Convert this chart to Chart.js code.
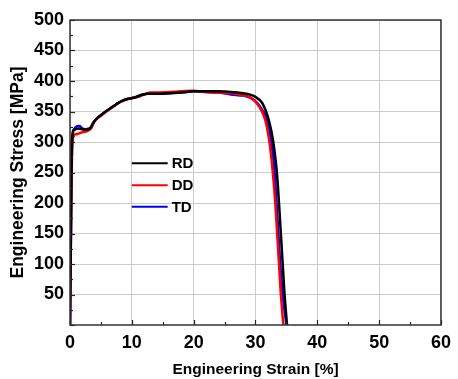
<!DOCTYPE html>
<html><head><meta charset="utf-8">
<script src="https://cdn.jsdelivr.net/npm/chart.js@4/dist/chart.umd.min.js"></script>
<style>html,body{margin:0;padding:0;background:#fff;}canvas{display:block;}</style>
</head><body>
<canvas id="c" width="458" height="379"></canvas>
<script>
const seriesNames = ["RD", "DD", "TD"];
const seriesColors = ["#000000", "#ff0000", "#0000ff"];
const legendLevels = [265, 229, 194];

const rdStrain = [0, 0.15, 0.3, 0.5, 0.9, 1.4, 2.0, 2.6, 3.2, 3.8, 4.5, 5.5, 6.5, 7.5, 8.5, 9.5, 10.5, 11.5, 12.5, 14, 16, 18, 20, 22, 24, 26, 28, 29, 30, 31, 31.7, 32.3, 32.8, 33.2, 33.5, 33.8, 34.1, 34.4, 34.7, 35.1];
const rdStress = [0, 150, 290, 318, 321, 322, 321, 320, 322, 332, 340, 348, 355, 362, 368, 371, 373, 377, 379, 379, 380, 381, 383, 383, 383, 382, 380, 378, 374, 365, 350, 330, 305, 275, 245, 200, 150, 100, 50, 0];

const ddStrain = [0, 0.2, 0.4, 0.7, 1.2, 2.0, 2.8, 3.4, 4.0, 5.0, 6.0, 7.0, 8.0, 9.0, 10.0, 11.0, 12.0, 13.0, 14, 16, 18, 20, 22, 24, 26, 28, 29, 30, 31, 31.6, 32.1, 32.5, 32.8, 33.2, 33.5, 33.8, 34.1, 34.5];
const ddStress = [0, 200, 300, 312, 313, 316, 318, 322, 335, 343, 351, 358, 365, 369, 372, 374, 378, 381, 381, 382, 383, 384, 382, 381, 380, 377, 374, 366, 351, 335, 310, 280, 250, 200, 150, 100, 50, 0];

const tdStrain = [0, 0.15, 0.3, 0.5, 0.8, 1.2, 1.6, 2.0, 2.5, 3.0, 3.3, 3.8, 4.5, 5.5, 6.5, 7.5, 8.5, 9.5, 10.5, 11.5, 12.5, 14, 16, 18, 20, 22, 24, 26, 28, 29, 30, 30.8, 31.5, 32, 32.5, 32.8, 33.1, 33.4, 33.7, 34.0, 34.4, 35.0];
const tdStress = [0, 150, 290, 318, 323, 326, 326, 322, 321, 322, 322, 332, 340, 348, 355, 362, 368, 371, 373, 377, 379, 379, 380, 381, 383, 382, 381, 378, 376, 373, 367, 357, 345, 330, 305, 280, 250, 200, 150, 100, 50, 0];

const xTicks = [0, 10, 20, 30, 40, 50, 60];
const yTicks = [50, 100, 150, 200, 250, 300, 350, 400, 450, 500];

function pts(xs, ys) { return xs.map((x, i) => ({ x: x, y: ys[i] })); }

const FONT = "'Liberation Sans', Arial, sans-serif";

const framePlugin = {
  id: 'frame',
  afterDraw(chart) {
    const ctx = chart.ctx, a = chart.chartArea;
    const xs = chart.scales.x, ys = chart.scales.y;
    ctx.save();
    ctx.strokeStyle = '#222';
    ctx.lineWidth = 1.2;
    for (let v = 0; v <= 60; v += 5) {
      const px = Math.round(xs.getPixelForValue(v)) + 0.5;
      const len = v % 10 === 0 ? 5 : 3;
      ctx.beginPath(); ctx.moveTo(px, a.bottom); ctx.lineTo(px, a.bottom - len); ctx.stroke();
    }
    for (let v = 0; v <= 500; v += 25) {
      const py = Math.round(ys.getPixelForValue(v)) + 0.5;
      const len = v % 50 === 0 ? 5 : 3;
      ctx.beginPath(); ctx.moveTo(a.left, py); ctx.lineTo(a.left + len, py); ctx.stroke();
    }
    ctx.strokeStyle = '#333';
    ctx.lineWidth = 1.5;
    ctx.strokeRect(a.left, a.top, a.right - a.left, a.bottom - a.top);
    const lx0 = xs.getPixelForValue(10.0), lx1 = xs.getPixelForValue(15.8);
    const legY = legendLevels.map(v => ys.getPixelForValue(v));
    ctx.font = 'bold 15px ' + FONT;
    ctx.textBaseline = 'middle';
    ctx.fillStyle = '#000';
    seriesNames.forEach((n, i) => {
      ctx.strokeStyle = seriesColors[i];
      ctx.lineWidth = 2;
      ctx.beginPath(); ctx.moveTo(lx0, legY[i]); ctx.lineTo(lx1, legY[i]); ctx.stroke();
      ctx.fillText(n, lx1 + 4, legY[i] + 1);
    });
    ctx.restore();
  }
};

new Chart(document.getElementById('c'), {
  type: 'line',
  data: {
    datasets: [
      { label: seriesNames[0], data: pts(rdStrain, rdStress), borderColor: seriesColors[0], borderWidth: 2.5, pointRadius: 0, tension: 0.3, fill: false },
      { label: seriesNames[1], data: pts(ddStrain, ddStress), borderColor: seriesColors[1], borderWidth: 2.5, pointRadius: 0, tension: 0.3, fill: false },
      { label: seriesNames[2], data: pts(tdStrain, tdStress), borderColor: seriesColors[2], borderWidth: 2.5, pointRadius: 0, tension: 0.3, fill: false }
    ]
  },
  options: {
    responsive: false,
    animation: false,
    layout: { padding: { top: 20, right: 10, left: 8, bottom: 0 } },
    plugins: { legend: { display: false }, tooltip: { enabled: false } },
    scales: {
      x: {
        type: 'linear', min: 0, max: 60,
        afterBuildTicks(s) { s.ticks = xTicks.map(v => ({ value: v })); },
        afterFit(s) { s.height = 54; },
        grid: { color: '#cccccc', lineWidth: 1, drawTicks: false },
        border: { display: false },
        ticks: { color: '#000', font: { family: FONT, size: 18, weight: 'bold' }, padding: 7 },
        title: { display: true, text: 'Engineering Strain [%]', color: '#000', font: { family: FONT, size: 15.5, weight: 'bold' }, padding: { top: 2, bottom: 0 } }
      },
      y: {
        type: 'linear', min: 0, max: 500,
        afterBuildTicks(s) { s.ticks = [0].concat(yTicks).map(v => ({ value: v })); },
        afterFit(s) { s.width = 62; },
        grid: { color: (c) => c.tick && c.tick.value === 0 ? 'rgba(0,0,0,0)' : '#cccccc', lineWidth: 1, drawTicks: false },
        border: { display: false },
        ticks: { color: '#000', font: { family: FONT, size: 18, weight: 'bold' }, padding: 6, callback: (v) => v === 0 ? '' : String(v) },
        title: { display: true, text: 'Engineering Stress [MPa]', color: '#000', font: { family: FONT, size: 17.5, weight: 'bold' }, padding: { top: 0, bottom: 1 } }
      }
    }
  },
  plugins: [framePlugin]
});
</script>
</body></html>
